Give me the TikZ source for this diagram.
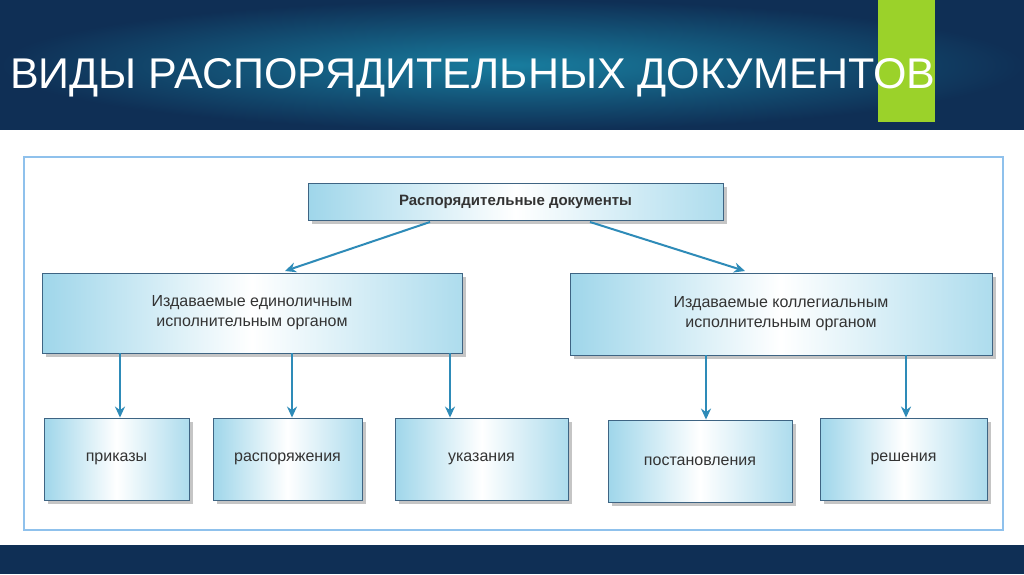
\documentclass[tikz,border=0pt]{standalone}
\usepackage{fontspec}
\setmainfont{Liberation Sans}
\usetikzlibrary{shadows,arrows.meta}
\definecolor{boxblue}{HTML}{9FD6EA}
\definecolor{edge}{HTML}{3E6483}
\definecolor{arr}{HTML}{2E8BB8}
\definecolor{hdr}{HTML}{1E5C86}
\definecolor{hdrd}{HTML}{0F2F55}
\definecolor{lime}{HTML}{9BD22A}
\tikzset{
 bx/.style={draw=edge, line width=0.9pt, left color=boxblue, right color=boxblue!85, middle color=white, font=\fontsize{16}{20}\selectfont, align=center, text=black!80, inner sep=0pt, drop shadow={shadow xshift=4pt, shadow yshift=-4pt, fill=black!45}},
 ar/.style={draw=arr, line width=2pt, -{Stealth[length=11pt,width=10pt]}}
}
\begin{document}
\begin{tikzpicture}[x=1pt,y=-1pt]
\useasboundingbox (0,0) rectangle (1024,574);
\shade[inner color=hdr!80!cyan, outer color=hdrd] (0,0) rectangle (1024,130);
\fill[hdrd] (0,545) rectangle (1024,574);
\fill[white] (0,130) rectangle (1024,545);
\fill[lime] (878,0) rectangle (935,122);
\node[anchor=base west, text=white, font=\fontsize{43}{48}\selectfont, inner sep=0pt] (title) at (10,88) {ВИДЫ РАСПОРЯДИТЕЛЬНЫХ ДОКУМЕНТОВ};
\draw[draw=boxblue!90!blue, line width=1.5pt] (24,157) rectangle (1003,530);
\node[bx, minimum width=415pt, minimum height=37pt, font=\bfseries\fontsize{15}{18}\selectfont] (top) at (515.5,201.5) {Распорядительные документы};
\node[bx, minimum width=420pt, minimum height=80pt] (m1) at (252,313) {Издаваемые единоличным\\исполнительным органом};
\node[bx, minimum width=422pt, minimum height=82pt] (m2) at (781,314) {Издаваемые коллегиальным\\исполнительным органом};
\node[bx, minimum width=145pt, minimum height=82pt] (b1) at (116.5,459) {приказы};
\node[bx, minimum width=149pt, minimum height=82pt] (b2) at (287.5,459) {распоряжения};
\node[bx, minimum width=173pt, minimum height=82pt] (b3) at (481.5,459) {указания};
\node[bx, minimum width=184pt, minimum height=82pt] (b4) at (700,461) {постановления};
\node[bx, minimum width=167pt, minimum height=82pt] (b5) at (903.5,459) {решения};
\coordinate (t1) at (430,222); \coordinate (t2) at (590,222);
\draw[ar] (t1) -- (285,271);
\draw[ar] (t2) -- (745,271);
\draw[ar] (m1.south -| 120,0) -- (b1.north -| 120,0);
\draw[ar] (m1.south -| 292,0) -- (b2.north -| 292,0);
\draw[ar] (m1.south -| 450,0) -- (b3.north -| 450,0);
\draw[ar] (m2.south -| 706,0) -- (b4.north -| 706,0);
\draw[ar] (m2.south -| 906,0) -- (b5.north -| 906,0);
\end{tikzpicture}
\end{document}
